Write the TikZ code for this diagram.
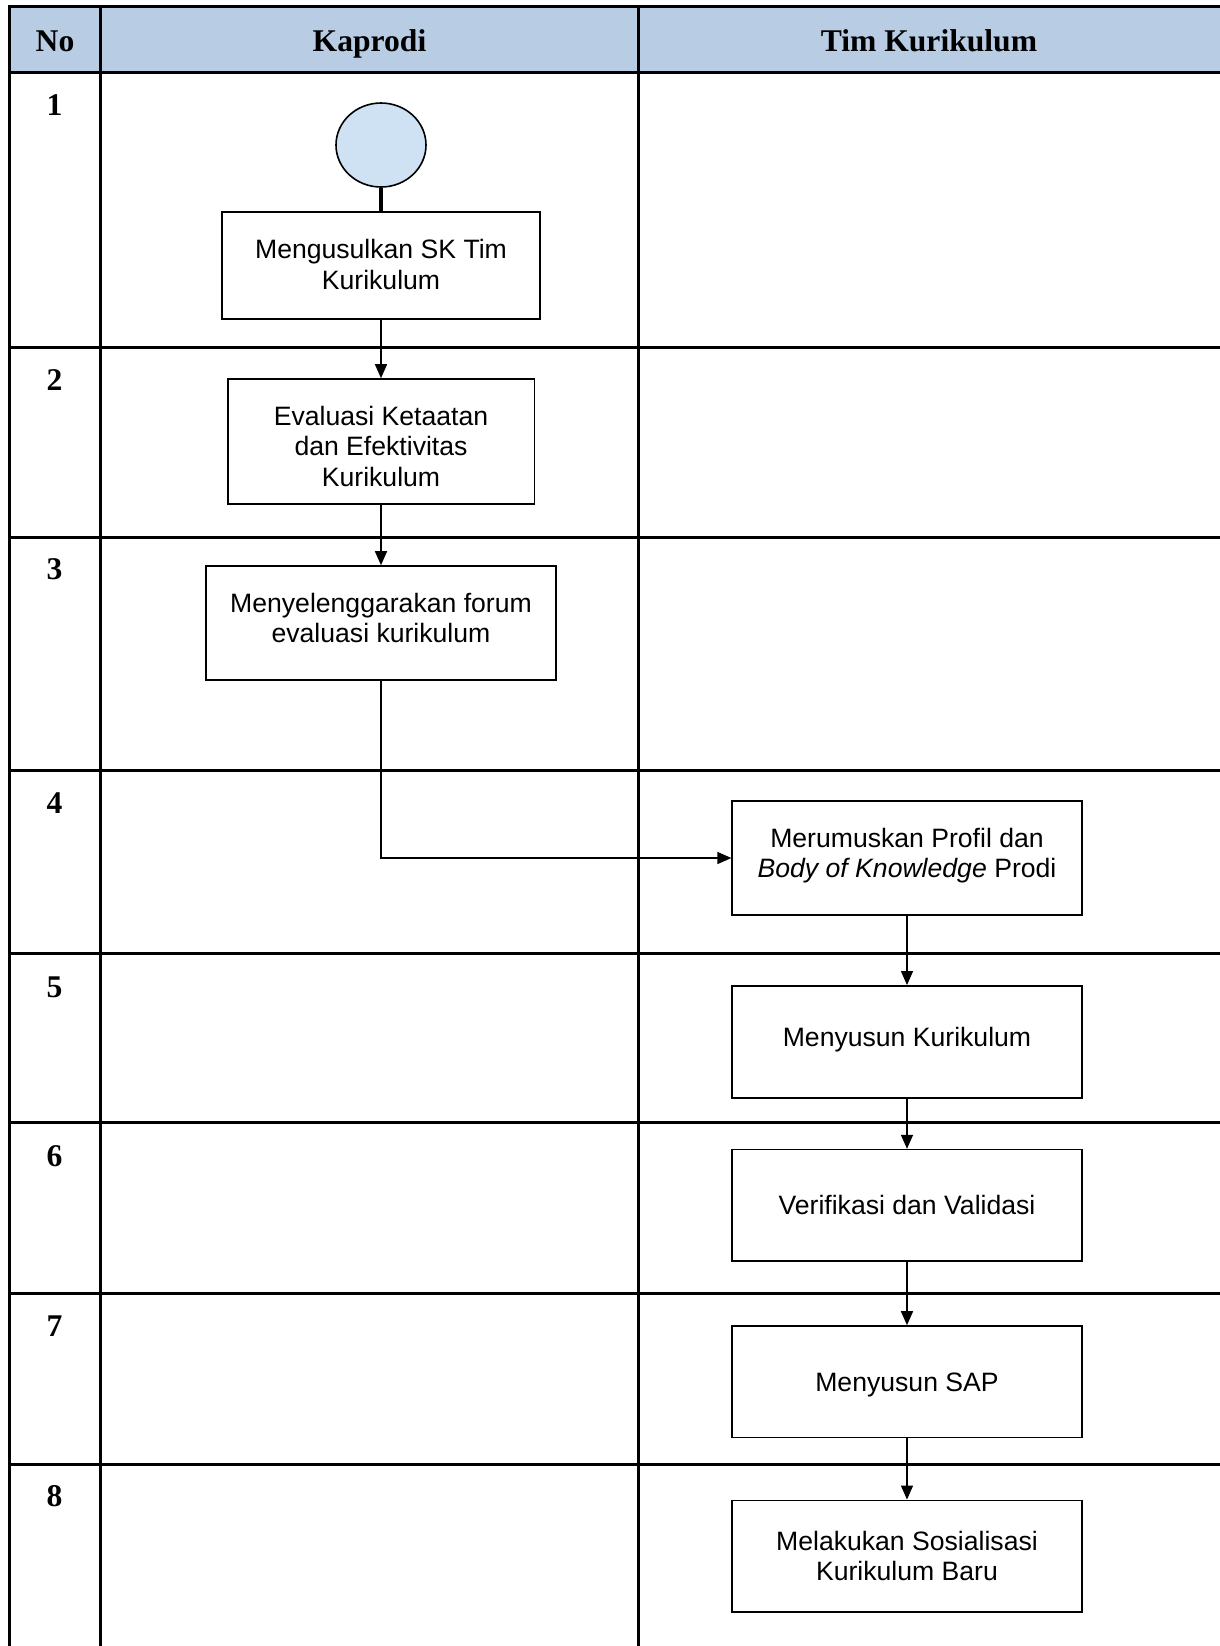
\documentclass[tikz,border=0pt]{standalone}
\usepackage{fontspec}
\setmainfont{Liberation Serif}
\newfontfamily\boxfont{Liberation Sans}
\usetikzlibrary{arrows.meta,shapes.geometric}
\definecolor{hdr}{RGB}{184,204,228}
\definecolor{startc}{RGB}{207,226,243}
\begin{document}
\begin{tikzpicture}[x=0.5pt,y=-0.5pt,
  tbl/.style={line width=1.5pt,line cap=rect},
  hdrtext/.style={font=\fontsize{15.8}{18}\selectfont\bfseries,inner sep=0,anchor=base},
  numtext/.style={font=\fontsize{15.8}{18}\selectfont\bfseries,inner sep=0},
  stepbox/.style={draw,line width=0.8pt,inner sep=0},
  boxtxt/.style={align=center,inner sep=0,label distance=0pt,
    font=\boxfont\fontsize{13.3}{15.2}\selectfont},
  startnode/.style={ellipse,draw,line width=0.8pt,fill=startc,inner sep=0,
    minimum width=45pt,minimum height=42pt},
  arr/.style={line width=0.7pt,-{Triangle[length=7pt,width=6pt]}},
  thickln/.style={line width=2pt}]
\useasboundingbox (0,0) rectangle (1220,1646);
% header
\fill[hdr] (9.5,6.3) rectangle (1220,72.4);
\draw[tbl] (9.5,1646) -- (9.5,6.3) -- (1220,6.3);
\draw[tbl] (9.5,72.4) -- (1220,72.4);
\draw[tbl] (100.8,6.3) -- (100.8,1646);
\draw[tbl] (638.3,6.3) -- (638.3,1646);
\foreach \yy in {347.5,537.5,770.6,953.3,1122.3,1293.5,1464.6}
  \draw[tbl] (9.5,\yy) -- (1220,\yy);
\node[hdrtext] (hno) at (55,51.5) {No};
\node[hdrtext] (hkap) at (369.5,51.5) {Kaprodi};
\node[hdrtext] (htim) at (929,51.5) {Tim Kurikulum};
% row numbers
\node[numtext] (n1) at (54.6,105) {1};
\node[numtext] (n2) at (54.6,380) {2};
\node[numtext] (n3) at (54.6,569) {3};
\node[numtext] (n4) at (54.6,803) {4};
\node[numtext] (n5) at (54.6,987) {5};
\node[numtext] (n6) at (54.6,1156) {6};
\node[numtext] (n7) at (54.6,1326) {7};
\node[numtext] (n8) at (54.6,1496) {8};
% nodes
\node[startnode] (start) at (381,145) {};
\node[stepbox,minimum width=159pt,minimum height=53.5pt,
  label={[boxtxt,yshift=0.5pt]center:{Mengusulkan SK Tim\\Kurikulum}}] (b1) at (381,265.6) {};
\node[stepbox,minimum width=153.3pt,minimum height=62.5pt,
  label={[boxtxt,yshift=-2.4pt]center:{Evaluasi Ketaatan\\dan Efektivitas\\Kurikulum}}] (b2) at (381,441.5) {};
\node[stepbox,minimum width=174.8pt,minimum height=57pt,
  label={[boxtxt,yshift=2.6pt]center:{Menyelenggarakan forum\\evaluasi kurikulum}}] (b3) at (381,623) {};
\node[stepbox,minimum width=174.8pt,minimum height=57.2pt,
  label={[boxtxt,yshift=1.3pt]center:{Merumuskan Profil dan\\\textit{Body of Knowledge} Prodi}}] (b4) at (907,858) {};
\node[stepbox,minimum width=174.8pt,minimum height=56.2pt,
  label={[boxtxt,yshift=1pt]center:{Menyusun Kurikulum}}] (b5) at (907,1042) {};
\node[stepbox,minimum width=174.8pt,minimum height=55.7pt,
  label={[boxtxt]center:{Verifikasi dan Validasi}}] (b6) at (907,1205.3) {};
\node[stepbox,minimum width=174.8pt,minimum height=55.7pt,
  label={[boxtxt,yshift=-1.6pt]center:{Menyusun SAP}}] (b7) at (907,1381.7) {};
\node[stepbox,minimum width=174.8pt,minimum height=55.7pt,
  label={[boxtxt]center:{Melakukan Sosialisasi\\Kurikulum Baru}}] (b8) at (907,1556) {};
% connectors
\draw[thickln] (start) -- (b1);
\draw[arr] (b1) -- (b2);
\draw[arr] (b2) -- (b3);
\draw[arr] (b3.south) |- (b4.west);
\draw[arr] (b4) -- (b5);
\draw[arr] (b5) -- (b6);
\draw[arr] (b6) -- (b7);
\draw[arr] (b7) -- (b8);
\end{tikzpicture}
\end{document}
